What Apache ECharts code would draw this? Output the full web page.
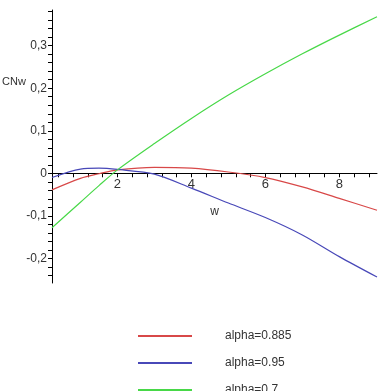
<!DOCTYPE html>
<html>
<head>
<meta charset="utf-8">
<script src="https://cdn.jsdelivr.net/npm/echarts@6/dist/echarts.min.js"></script>
<style>
  html, body { margin: 0; padding: 0; background: #fff; }
  #chart { width: 381px; height: 391px; }
</style>
</head>
<body>
<div id="chart"></div>
<script>
// values
const wValues = [0.23, 1, 1.5, 2, 3, 4, 5, 6, 7, 8, 9.02]
const alpha0885 = [-0.039, -0.012, -0.001, 0.008, 0.014, 0.012, 0.003, -0.01, -0.032, -0.059, -0.087]
const alpha095 = [-0.01, 0.01, 0.012, 0.009, -0.002, -0.035, -0.07, -0.104, -0.145, -0.196, -0.244]
const alpha07 = [-0.128, -0.068, -0.029, 0.008, 0.07, 0.129, 0.184, 0.234, 0.281, 0.325, 0.368]

const xLabels = [2, 4, 6, 8]
const yLabels = [-0.2, -0.1, 0, 0.1, 0.2, 0.3]

const yMin = -0.258
const yMax = 0.384

const font = "'Liberation Sans', Arial, sans-serif"

// minor ticks like the original (0.4 on w, 0.02 on CNw)
const xTicks = []
for (let i = 1; i <= 22; i++) xTicks.push(+(i * 0.4).toFixed(2))
const yTicks = []
for (let i = -12; i <= 19; i++) yTicks.push(+(i * 0.02).toFixed(2))

const pairs = (ys) => wValues.map((w, i) => [w, ys[i]])

const gridTop = 10
const gridBottom = 108
const plotH = 391 - gridTop - gridBottom
// move the w axis up so it sits on CNw = 0
const zeroOffset = -plotH * (0 - yMin) / (yMax - yMin)

const chart = echarts.init(document.getElementById('chart'))

const lineSeries = (name, ys, color) => ({
  name: name,
  type: 'line',
  data: pairs(ys),
  smooth: 0.3,
  showSymbol: false,
  lineStyle: { color: color, width: 1.2 },
  itemStyle: { color: color }
})

chart.setOption({
  animation: false,
  grid: { left: 52, right: 4, top: gridTop, bottom: gridBottom },
  xAxis: {
    type: 'value',
    min: 0.23,
    max: 9.02,
    offset: zeroOffset,
    name: 'w',
    nameLocation: 'middle',
    nameGap: 32,
    nameTextStyle: { fontFamily: font, fontSize: 12, color: '#333' },
    axisLine: { onZero: false, lineStyle: { color: '#000', width: 1 } },
    axisTick: { show: true, length: 4, customValues: xTicks, lineStyle: { color: '#000' } },
    axisLabel: {
      customValues: xLabels,
      margin: 5,
      fontFamily: font,
      fontSize: 13,
      color: '#333'
    },
    splitLine: { show: false }
  },
  yAxis: {
    type: 'value',
    min: yMin,
    max: yMax,
    axisLine: { show: true, onZero: false, lineStyle: { color: '#000', width: 1 } },
    axisTick: { show: true, length: 4, customValues: yTicks, lineStyle: { color: '#000' } },
    axisLabel: {
      customValues: yLabels,
      margin: 5,
      fontFamily: font,
      fontSize: 12,
      color: '#333',
      formatter: (v) => (v === 0 ? '0' : String(v).replace('.', ','))
    },
    splitLine: { show: false }
  },
  legend: {
    orient: 'vertical',
    left: 133,
    top: 324,
    height: 120,
    itemWidth: 54,
    itemHeight: 2,
    itemGap: 13,
    icon: 'rect',
    textStyle: {
      fontFamily: font,
      fontSize: 12,
      color: '#333',
      lineHeight: 14,
      padding: [0, 0, 0, 28]
    },
    data: ['alpha=0.885', 'alpha=0.95', 'alpha=0.7']
  },
  graphic: [
    {
      type: 'text',
      left: 2,
      top: 76,
      style: { text: 'CNw', font: '11px ' + font, fill: '#333' }
    }
  ],
  series: [
    lineSeries('alpha=0.885', alpha0885, '#d84848'),
    lineSeries('alpha=0.95', alpha095, '#4848b8'),
    lineSeries('alpha=0.7', alpha07, '#48d848')
  ]
})
</script>
</body>
</html>
